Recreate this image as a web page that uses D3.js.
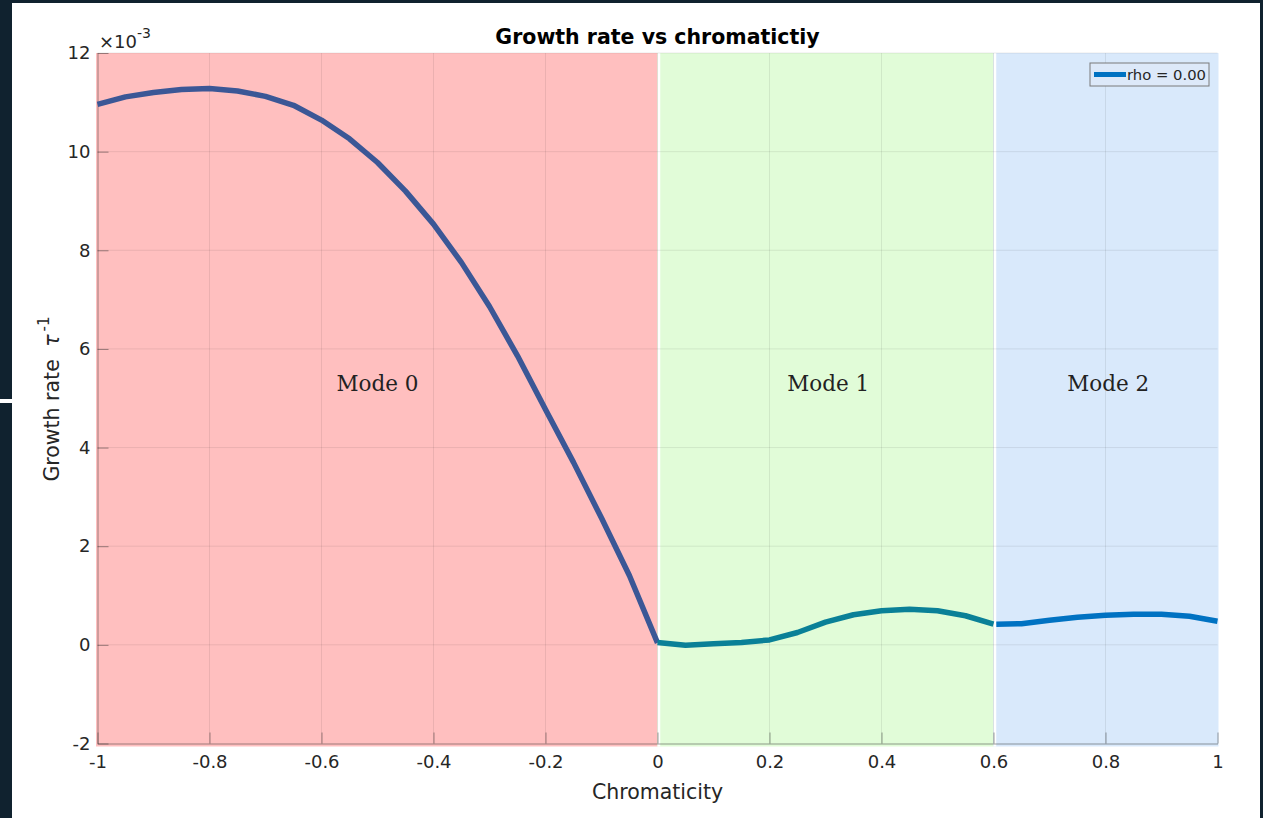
<!DOCTYPE html>
<html>
<head>
<meta charset="utf-8">
<script src="https://cdn.jsdelivr.net/npm/d3@7"></script>
<style>
  body { margin: 0; background: #fff; }
  svg { display: block; }
</style>
</head>
<body>
<div id="chart"></div>
<script>
// chromaticity samples and growth rates (x1e-3) for each mode
const mode0X = [-1, -0.95, -0.9, -0.85, -0.8, -0.75, -0.7, -0.65, -0.6, -0.55, -0.5,
  -0.45, -0.4, -0.35, -0.3, -0.25, -0.2, -0.15, -0.1, -0.05, 0]
const mode0Y = [10.96, 11.11, 11.2, 11.26, 11.28, 11.23, 11.12, 10.94, 10.64, 10.26, 9.78,
  9.2, 8.53, 7.75, 6.86, 5.86, 4.77, 3.7, 2.57, 1.4, 0.04]
const mode1X = [0, 0.05, 0.1, 0.15, 0.2, 0.25, 0.3, 0.35, 0.4, 0.45, 0.5, 0.55, 0.6]
const mode1Y = [0.05, -0.01, 0.02, 0.05, 0.1, 0.25, 0.46, 0.61, 0.69, 0.72, 0.69, 0.59, 0.42]
const mode2X = [0.605, 0.65, 0.7, 0.75, 0.8, 0.85, 0.9, 0.95, 1]
const mode2Y = [0.42, 0.43, 0.5, 0.56, 0.6, 0.62, 0.62, 0.58, 0.48]

const regions = [
  { name: "Mode 0", from: -1, to: 0, fill: "#ffbfbf", labelX: -0.5 },
  { name: "Mode 1", from: 0, to: 0.6, fill: "#e1fcd8", labelX: 0.305 },
  { name: "Mode 2", from: 0.6, to: 1, fill: "#d9e9fb", labelX: 0.805 }
]
const labelY = 5.3

const xTicks = [-1, -0.8, -0.6, -0.4, -0.2, 0, 0.2, 0.4, 0.6, 0.8, 1]
const yTicks = [-2, 0, 2, 4, 6, 8, 10, 12]

const W = 1263, H = 818

const svg = d3.select("#chart").append("svg")
  .attr("width", W)
  .attr("height", H)
  .attr("font-family", "DejaVu Sans, sans-serif")

svg.append("rect").attr("width", W).attr("height", H).attr("fill", "#fff")

const x = d3.scaleLinear([-1, 1], [97.5, 1217.5])
const y = d3.scaleLinear([-2, 12], [743.5, 53])

// shaded mode regions
svg.append("g").selectAll("rect")
  .data(regions)
  .join("rect")
  .attr("x", d => x(d.from) - (d.from === -1 ? 1.5 : 0))
  .attr("y", y(12))
  .attr("width", d => x(d.to) - x(d.from) + (d.from === -1 ? 1.5 : 0) + (d.to === 1 ? 1 : 0))
  .attr("height", y(-2) - y(12) + 3)
  .attr("fill", d => d.fill)

// white separators between regions
svg.append("g").selectAll("line")
  .data([0, 0.6])
  .join("line")
  .attr("x1", d => x(d) + 1.5).attr("x2", d => x(d) + 1.5)
  .attr("y1", y(12)).attr("y2", y(-2) + 3)
  .attr("stroke", "#fff")
  .attr("stroke-width", 2.5)

// grid
const grid = svg.append("g").attr("stroke", "#262626").attr("stroke-opacity", 0.09)
grid.selectAll(".gx")
  .data(xTicks.slice(1, -1))
  .join("line")
  .attr("x1", d => x(d)).attr("x2", d => x(d))
  .attr("y1", y(12)).attr("y2", y(-2))
grid.selectAll(".gy")
  .data(yTicks.slice(1))
  .join("line")
  .attr("x1", x(-1)).attr("x2", x(1))
  .attr("y1", d => y(d)).attr("y2", d => y(d))

// axes, ticks pointing inward
const fmt = d => String(+d.toFixed(1))
const gx = svg.append("g")
  .attr("transform", `translate(0,${y(-2)})`)
  .call(d3.axisBottom(x).tickValues(xTicks).tickFormat(fmt).tickSizeInner(-11).tickSizeOuter(0).tickPadding(12))
const gy = svg.append("g")
  .attr("transform", `translate(${x(-1)},0)`)
  .call(d3.axisLeft(y).tickValues(yTicks).tickFormat(fmt).tickSizeInner(-11).tickSizeOuter(0).tickPadding(7))

for (const g of [gx, gy]) {
  g.attr("font-family", "DejaVu Sans, sans-serif").attr("font-size", 18)
  g.selectAll("path, line").attr("stroke", "#262626").attr("stroke-opacity", 0.45)
  g.selectAll("text").attr("fill", "#262626")
}

// exponent marker
const ex = svg.append("text").attr("x", 99).attr("y", 48).attr("font-size", 18).attr("fill", "#262626")
ex.append("tspan").text("×10")
ex.append("tspan").attr("dy", -10).attr("font-size", 14).text("-3")

// data lines
const line = d3.line().x(d => x(d[0])).y(d => y(d[1]))
const series = [
  { xs: mode0X, ys: mode0Y, color: "#3b5796" },
  { xs: mode1X, ys: mode1Y, color: "#0a8097" },
  { xs: mode2X, ys: mode2Y, color: "#0072c2" }
]
svg.append("g").selectAll("path")
  .data(series)
  .join("path")
  .attr("d", s => line(d3.zip(s.xs, s.ys)))
  .attr("fill", "none")
  .attr("stroke", s => s.color)
  .attr("stroke-width", 5.5)
  .attr("stroke-linejoin", "round")

// mode labels
svg.append("g").selectAll("text")
  .data(regions)
  .join("text")
  .attr("x", d => x(d.labelX))
  .attr("y", y(labelY))
  .attr("dy", "0.35em")
  .attr("text-anchor", "middle")
  .attr("font-family", "DejaVu Serif, serif")
  .attr("font-size", 21.5)
  .attr("fill", "#222")
  .text(d => d.name)

// title and axis labels
svg.append("text")
  .attr("x", x(0)).attr("y", 44)
  .attr("text-anchor", "middle")
  .attr("font-size", 20.5)
  .attr("font-weight", "bold")
  .attr("fill", "#000")
  .text("Growth rate vs chromatictiy")

svg.append("text")
  .attr("x", x(0)).attr("y", 799)
  .attr("text-anchor", "middle")
  .attr("font-size", 20.5)
  .attr("fill", "#262626")
  .text("Chromaticity")

const yl = svg.append("text")
  .attr("transform", "translate(59,399) rotate(-90)")
  .attr("text-anchor", "middle")
  .attr("font-size", 20.5)
  .attr("fill", "#262626")
yl.append("tspan").text("Growth rate ")
yl.append("tspan").attr("dx", 6).attr("font-style", "italic").text("τ")
yl.append("tspan").attr("dx", 3).attr("dy", -10).attr("font-size", 15).text("-1")

// legend
const lg = svg.append("g").attr("transform", "translate(1090,63)")
lg.append("rect").attr("width", 119).attr("height", 23)
  .attr("fill", "#dde9f9").attr("stroke", "#7a7a7a").attr("stroke-width", 1)
lg.append("line").attr("x1", 4).attr("x2", 36).attr("y1", 11.5).attr("y2", 11.5)
  .attr("stroke", "#0072c2").attr("stroke-width", 5)
lg.append("text").attr("x", 37).attr("y", 11.5).attr("dy", "0.35em")
  .attr("font-size", 14.8).attr("fill", "#262626").text("rho = 0.00")

// dark frame around the screenshot
const frame = svg.append("g").attr("fill", "#10222f")
frame.append("rect").attr("x", 0).attr("y", 0).attr("width", 12).attr("height", H)
frame.append("rect").attr("x", 0).attr("y", 0).attr("width", W).attr("height", 3)
frame.append("rect").attr("x", 1260).attr("y", 0).attr("width", 3).attr("height", H)
svg.append("rect").attr("x", 0).attr("y", 399).attr("width", 12).attr("height", 4).attr("fill", "#fff")
</script>
</body>
</html>
